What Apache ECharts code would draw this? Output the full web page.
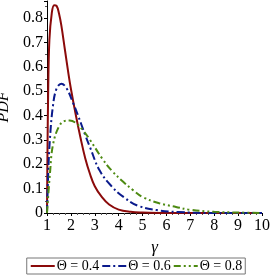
<!DOCTYPE html>
<html>
<head>
<meta charset="utf-8">
<script src="https://cdn.jsdelivr.net/npm/echarts@6/dist/echarts.min.js"></script>
<style>
  html, body { margin: 0; padding: 0; background: #fff; }
  #chart1 { width: 272px; height: 277px; }
</style>
</head>
<body>
<div id="chart1"></div>
<script>
// curves: [gamma, pdf]
var theta04 = [[1.0, 0], [1.02, 0.25], [1.05, 0.5], [1.1, 0.71], [1.2, 0.82], [1.3, 0.853], [1.4, 0.85],
  [1.5, 0.82], [1.6, 0.77], [1.75, 0.67], [1.9, 0.57], [2.0, 0.51], [2.2, 0.405], [2.4, 0.31],
  [2.6, 0.225], [2.8, 0.16], [3.0, 0.11], [3.3, 0.065], [3.6, 0.035], [4.0, 0.014], [4.5, 0.005],
  [5.0, 0.002], [6.0, 0], [10, 0]];
var theta06 = [[1.0, 0], [1.05, 0.16], [1.12, 0.3], [1.25, 0.44], [1.4, 0.51], [1.6, 0.53], [1.8, 0.515],
  [2.1, 0.45], [2.3, 0.40], [2.6, 0.32], [2.8, 0.27], [3.2, 0.175], [3.7, 0.11], [4.2, 0.066],
  [4.8, 0.03], [5.6, 0.012], [6.5, 0.004], [8, 0], [10, 0]];
var theta08 = [[1.0, 0], [1.13, 0.17], [1.25, 0.28], [1.5, 0.355], [1.75, 0.378], [1.95, 0.38], [2.2, 0.37],
  [2.5, 0.34], [2.8, 0.30], [3.3, 0.225], [3.7, 0.175], [4.2, 0.127], [4.6, 0.094], [5.0, 0.066],
  [5.7, 0.04], [6.4, 0.025], [7.0, 0.013], [8.0, 0.005], [9.0, 0.002], [10, 0]];
var seriesNames = ['\u0398 = 0.4', '\u0398 = 0.6', '\u0398 = 0.8'];

var font = 'Liberation Serif';
var chart = echarts.init(document.getElementById('chart1'));

function line(name, data, color, dash) {
  return {
    type: 'line', name: name, data: data, symbol: 'none', smooth: 0.4,
    lineStyle: { color: color, width: 2, type: dash },
    itemStyle: { color: color }
  };
}

chart.setOption({
  animation: false,
  grid: { left: 47, right: 10, top: 1, bottom: 64, containLabel: false, outerBoundsMode: 'none' },
  legend: {
    bottom: 3, left: 'center',
    itemWidth: 24, itemHeight: 10, itemGap: 2,
    itemStyle: { opacity: 0 },
    borderColor: '#777', borderWidth: 1, padding: [1, 3], borderRadius: 0,
    textStyle: { fontFamily: font, fontSize: 14, color: '#000', padding: [0, 0, 0, -3] },
    data: seriesNames
  },
  xAxis: {
    type: 'value', min: 1, max: 10, interval: 1,
    name: '\u03b3', nameLocation: 'middle', nameGap: 26,
    nameTextStyle: { fontFamily: font, fontStyle: 'italic', fontSize: 17, color: '#000' },
    axisLine: { lineStyle: { color: '#000', width: 1 } },
    axisTick: { length: 3, lineStyle: { color: '#000' } },
    minorTick: { show: true, splitNumber: 4, length: 2, lineStyle: { color: '#555' } },
    axisLabel: { fontFamily: font, fontSize: 16, color: '#000', margin: 5 },
    splitLine: { show: false }
  },
  yAxis: {
    type: 'value', min: 0, max: 0.87, interval: 0.1,
    name: 'PDF', nameLocation: 'middle', nameGap: 31,
    nameTextStyle: { fontFamily: font, fontStyle: 'italic', fontSize: 16, color: '#000' },
    axisLine: { show: true, lineStyle: { color: '#000', width: 1 } },
    axisTick: { show: true, length: 3, lineStyle: { color: '#000' } },
    minorTick: { show: true, splitNumber: 2, length: 2, lineStyle: { color: '#555' } },
    axisLabel: {
      fontFamily: font, fontSize: 16, color: '#000', margin: 4, showMaxLabel: false,
      formatter: function (v) { return v === 0 ? '0' : (Math.round(v * 10) / 10).toString(); }
    },
    splitLine: { show: false }
  },
  series: [
    line(seriesNames[0], theta04, '#8b0a0a', 'solid'),
    line(seriesNames[1], theta06, '#0a1a8c', [8, 3, 2, 3]),
    line(seriesNames[2], theta08, '#4d8a12', [7, 3, 2, 3, 2, 3])
  ]
});
</script>
</body>
</html>
